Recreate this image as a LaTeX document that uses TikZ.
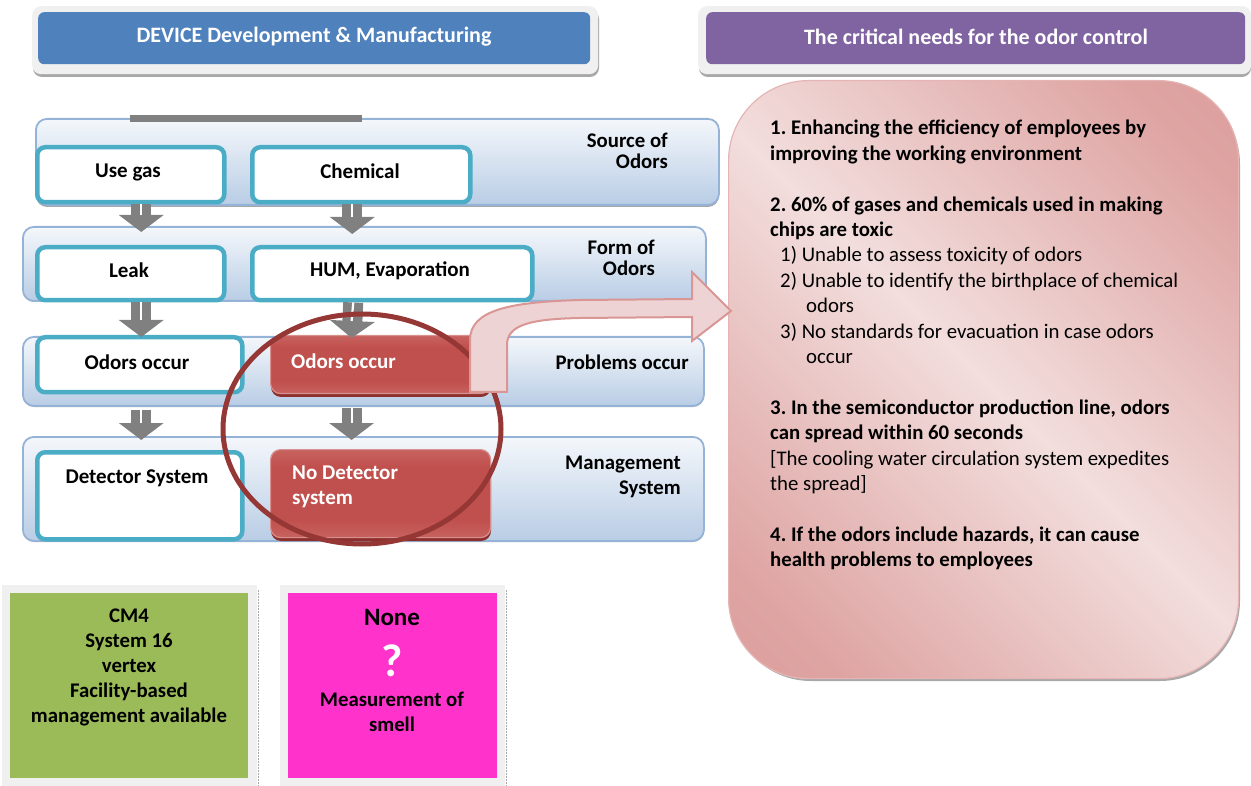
\documentclass[tikz,border=0pt]{standalone}
\usepackage{fontspec}
\setmainfont{Carlito}
\frenchspacing
\usetikzlibrary{arrows.meta,calc,shapes.geometric}
\definecolor{hblue}{HTML}{4F81BD}
\definecolor{hpurple}{HTML}{8064A2}
\definecolor{frame}{HTML}{F0F0F0}
\definecolor{shd}{HTML}{A8A8A8}
\definecolor{tealc}{HTML}{4BACC6}
\definecolor{bandedge}{HTML}{95B3D7}
\definecolor{bandtop}{HTML}{F4F7FB}
\definecolor{bandbot}{HTML}{B9CDE5}
\definecolor{redmd}{HTML}{C0504D}
\definecolor{redlt}{HTML}{D8908E}
\definecolor{reddk}{HTML}{8C2F2D}
\definecolor{circc}{HTML}{953735}
\definecolor{pkdark}{HTML}{D99694}
\definecolor{pklight}{HTML}{F2DEDD}
\definecolor{arrfill}{HTML}{EDD3D3}
\definecolor{arredge}{HTML}{D99694}
\definecolor{greenc}{HTML}{9BBB59}
\definecolor{magc}{HTML}{FF33CC}
\definecolor{grayarr}{HTML}{808080}
\pgfdeclareverticalshading{redbar}{100bp}{color(0bp)=(redlt); color(35bp)=(redmd); color(65bp)=(redmd); color(100bp)=(redlt)}
\pgfdeclarehorizontalshading{pinkdiag}{100bp}{color(0bp)=(pkdark); color(22bp)=(pkdark!80!pklight); color(50bp)=(pklight); color(78bp)=(pkdark!80!pklight); color(100bp)=(pkdark)}
\tikzset{
  hframe/.style={fill=frame, rounded corners=9pt, anchor=north west, inner sep=0pt},
  hbox/.style={rounded corners=6pt, anchor=north west, inner sep=0pt},
  htext/.style={text=white, font=\fontsize{22}{26}\selectfont\bfseries},
  band/.style={draw=bandedge, line width=1.8pt, rounded corners=11pt, top color=bandtop, bottom color=bandbot, anchor=north west, inner sep=0pt},
  tealbox/.style={draw=tealc, line width=4.5pt, rounded corners=8pt, fill=white, anchor=north west, inner sep=0pt},
  redbox/.style={draw=redlt, line width=1.2pt, rounded corners=10pt, shading=redbar, anchor=north west, inner sep=0pt},
  boxtxt/.style={font=\fontsize{21}{25}\selectfont\bfseries, inner sep=0pt},
  whitetxt/.style={font=\fontsize{21}{25}\selectfont\bfseries, text=white, inner sep=0pt, align=left, anchor=west},
  bandlbl/.style={font=\fontsize{20.8}{21}\selectfont\bfseries, inner sep=0pt, align=right, anchor=east},
  blk/.style={draw=grayarr, line width=20pt, -{Triangle[width=44pt,length=17pt]}},
  blkline/.style={draw=white, line width=2.2pt},
}
\begin{document}
\begin{tikzpicture}[x=1pt,y=-1pt]
\useasboundingbox (0,0) rectangle (1251,786);
% ---------- headers
\fill[shd, rounded corners=9pt] (33,10) rectangle (599,77);
\node[hframe, minimum width=566pt, minimum height=68pt] (lframe) at (32,6) {};
\node[hbox, fill=hblue, minimum width=552pt, minimum height=52pt] (lhead) at (38,12) {};
\node[htext] (lheadt) at (314,37) {DEVICE Development \& Manufacturing};
\fill[shd, rounded corners=9pt] (699,10) rectangle (1251,77);
\node[hframe, minimum width=553pt, minimum height=68pt] (rframe) at (698,6) {};
\node[hbox, fill=hpurple, minimum width=539pt, minimum height=52pt] (rhead) at (706,12) {};
\node[htext] (rheadt) at (976,37) {The critical needs for the odor control};
% ---------- bands
\fill[shd, rounded corners=11pt] (36,121) rectangle (719,207);
\node[band, minimum width=683pt, minimum height=86pt] (band1) at (35,118) {};
\fill[shd, rounded corners=11pt] (23,228) rectangle (706,302);
\node[band, minimum width=683pt, minimum height=74pt] (band2) at (22,226) {};
\fill[shd, rounded corners=11pt] (23,339) rectangle (704,407);
\node[band, minimum width=681pt, minimum height=69pt] (band3) at (22,336) {};
\fill[shd, rounded corners=11pt] (23,439) rectangle (704,542);
\node[band, minimum width=681pt, minimum height=104pt] (band4) at (22,436) {};
\node[fill=grayarr, anchor=north west, minimum width=232pt, minimum height=7pt, inner sep=0pt] (bar) at (130,115) {};
% band labels
\node[bandlbl] (lbl1) at (668,151) {Source of\\Odors};
\node[bandlbl] (lbl2) at (655,258) {Form of\\Odors};
\node[bandlbl] (lbl3) at (689,362) {Problems occur};
\node[bandlbl, font=\fontsize{20.8}{25}\selectfont\bfseries] (lbl4) at (681,477) {Management\\System};
% ---------- teal boxes
\node[tealbox, minimum width=187pt, minimum height=55pt] (usegas) at (35,145) {};
\node[boxtxt] (usegasT) at (128,172) {Use gas};
\node[tealbox, minimum width=218pt, minimum height=55pt] (chem) at (250,145) {};
\node[boxtxt] (chemT) at (360,171) {Chemical};
\node[tealbox, minimum width=187pt, minimum height=53pt] (leak) at (35,245) {};
\node[boxtxt] (leakT) at (129,270) {Leak};
\node[tealbox, minimum width=280pt, minimum height=53pt] (hum) at (250,245) {};
\node[boxtxt] (humT) at (390,271) {HUM, Evaporation};
\node[tealbox, minimum width=205pt, minimum height=55pt] (odorL) at (35,335) {};
\node[boxtxt] (odorLT) at (137,362) {Odors occur};
\node[tealbox, minimum width=205pt, minimum height=87pt] (det) at (35,450) {};
\node[boxtxt] (detT) at (137,478) {Detector System};
% ---------- red boxes
\fill[reddk, rounded corners=10pt] (271,339) rectangle (491,397);
\node[redbox, minimum width=220pt, minimum height=58pt] (odorR) at (270,335) {};
\node[whitetxt] (odorRT) at (291,361) {Odors occur};
\fill[reddk, rounded corners=10pt] (271,453) rectangle (491,541);
\node[redbox, minimum width=220pt, minimum height=88pt] (nodet) at (270,449) {};
\node[whitetxt] (nodetT) at (292,487) {No Detector\\system};
% ---------- block arrows
\draw[blk] ([xshift=10.5pt]usegas.south) -- ([xshift=10.5pt,yshift=13pt]leak.north);
\draw[blkline] ([xshift=10.5pt]usegas.south) -- ([xshift=10.5pt,yshift=30pt]leak.north);
\draw[blk] ([xshift=-9pt]chem.south) -- ([xshift=-40pt,yshift=11pt]hum.north);
\draw[blkline] ([xshift=-9pt]chem.south) -- ([xshift=-40pt,yshift=28pt]hum.north);
\draw[blk] ([xshift=10.5pt]leak.south) -- ([xshift=1.5pt,yshift=-2pt]odorL.north);
\draw[blkline] ([xshift=10.5pt]leak.south) -- ([xshift=1.5pt,yshift=15pt]odorL.north);
\draw[blk] ([xshift=-39pt]hum.south) -- ([xshift=-29pt,yshift=-3pt]odorR.north);
\draw[blkline] ([xshift=-39pt]hum.south) -- ([xshift=-29pt,yshift=14pt]odorR.north);
\draw[blk, shorten <=15pt] ([xshift=1.5pt]odorL.south) -- ([xshift=1.5pt,yshift=10pt]det.north);
\draw[blkline, shorten <=15pt] ([xshift=1.5pt]odorL.south) -- ([xshift=1.5pt,yshift=27pt]det.north);
\draw[blk, shorten <=14pt] ([xshift=-29pt]odorR.south) -- ([xshift=-29pt,yshift=9pt]nodet.north);
\draw[blkline, shorten <=14pt] ([xshift=-29pt]odorR.south) -- ([xshift=-29pt,yshift=26pt]nodet.north);
% ---------- circle
\node[draw=circc, line width=5pt, ellipse, minimum width=278pt, minimum height=230pt, inner sep=0pt] (focus) at (362,429) {};
% ---------- right panel
\fill[shd, rounded corners=80pt] (731,84) rectangle (1240,681);
\node[draw=pkdark!70!white, line width=1.2pt, rounded corners=80pt, shading=pinkdiag, shading angle=45, anchor=north west, minimum width=510pt, minimum height=598pt, inner sep=0pt] (needs) at (728,80) {};
\node[anchor=north west, inner sep=0pt, align=left, font=\fontsize{20.8}{25.4}\selectfont] (needsT) at (770,120) {%
\textbf{1. Enhancing the efficiency of employees by}\\
\textbf{improving the working environment}\\[25.4pt]
\textbf{2. 60\% of gases and chemicals used in making}\\
\textbf{chips are toxic}\\
\hspace*{10pt}1) Unable to assess toxicity of odors\\
\hspace*{10pt}2) Unable to identify the birthplace of chemical\\
\hspace*{36pt}odors\\
\hspace*{10pt}3) No standards for evacuation in case odors\\
\hspace*{36pt}occur\\[25.4pt]
\textbf{3. In the semiconductor production line, odors}\\
\textbf{can spread within 60 seconds}\\
{[}The cooling water circulation system expedites\\
the spread]\\[25.4pt]
\textbf{4. If the odors include hazards, it can cause}\\
\textbf{health problems to employees}};
% ---------- big bent arrow
\draw[fill=arrfill, draw=arredge, line width=2pt, line join=miter]
  (470,392) -- (470,340) .. controls (470,310) and (510,302) .. (580,300) -- (692,299)
  -- (692,272) -- (731,311) -- (692,341) -- (692,317) -- (580,318)
  .. controls (530,319) and (507,325) .. (507,345) -- (507,392) -- cycle;
% ---------- bottom boxes
\node[fill=frame, anchor=north west, minimum width=255pt, minimum height=201pt, inner sep=0pt] (gframe) at (2,585) {};
\node[fill=greenc, anchor=north west, minimum width=238pt, minimum height=185pt, inner sep=0pt] (gbox) at (10,593) {};
\draw[shd, line width=1pt, dash pattern=on 2pt off 1pt] ([xshift=1pt,yshift=-5pt]gframe.north east) -- ([xshift=1pt]gframe.south east);
\node[align=center, inner sep=0pt, font=\fontsize{20.8}{25}\selectfont\bfseries] (gtext) at (129,667) {CM4\\System 16\\vertex\\Facility-based\\management available};
\node[fill=frame, anchor=north west, minimum width=225pt, minimum height=201pt, inner sep=0pt] (mframe) at (280,585) {};
\node[fill=magc, anchor=north west, minimum width=209pt, minimum height=185pt, inner sep=0pt] (mbox) at (288,593) {};
\draw[shd, line width=1pt, dash pattern=on 2pt off 1pt] ([xshift=1pt,yshift=-5pt]mframe.north east) -- ([xshift=1pt]mframe.south east);
\node[inner sep=0pt, font=\fontsize{25}{28}\selectfont\bfseries] (mnone) at (392,617) {None};
\node[inner sep=0pt, text=white, font=\fontsize{46}{48}\selectfont\bfseries] (mq) at (392,661) {?};
\node[align=center, inner sep=0pt, font=\fontsize{20.8}{25}\selectfont\bfseries] (mtext) at (392,712) {Measurement of\\smell};
\end{tikzpicture}
\end{document}
